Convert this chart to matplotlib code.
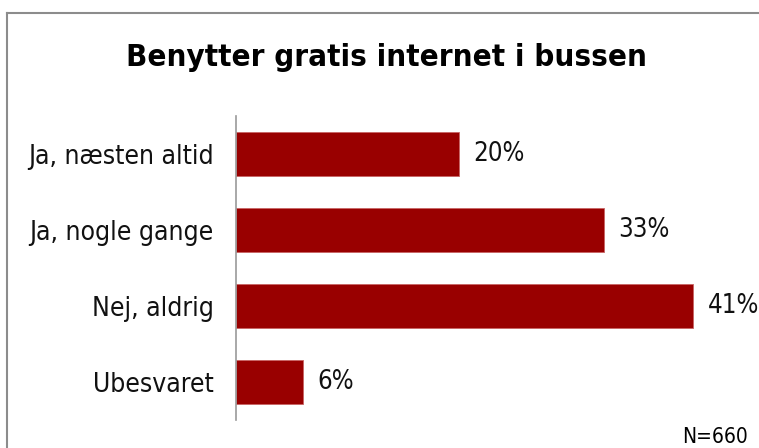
import matplotlib.pyplot as plt
from matplotlib.lines import Line2D

categories = ["Ja, næsten altid", "Ja, nogle gange", "Nej, aldrig", "Ubesvaret"]
values = [20, 33, 41, 6]
value_labels = ["20%", "33%", "41%", "6%"]
title = "Benytter gratis internet i bussen"
note = "N=660"

W, H = 759, 448
fig = plt.figure(figsize=(W / 100, H / 100), dpi=100)

# grey frame (left and top edges visible)
fig.add_artist(Line2D([7 / W, 7 / W], [0, 1 - 13 / H], color="#8c8c8c", lw=1.5))
fig.add_artist(Line2D([7 / W, 1], [1 - 13 / H, 1 - 13 / H], color="#8c8c8c", lw=1.5))

ax = fig.add_axes([236 / W, 28 / H, 513 / W, (420 - 116) / H])
pos = list(range(len(categories)))
ax.barh(pos, values, height=0.58, color="#990000", edgecolor="#c86464", linewidth=0.6)
ax.set_ylim(len(categories) - 0.5, -0.5)
ax.set_xlim(0, 46)

lab_font = dict(family="DejaVu Sans", stretch="condensed", fontsize=19, color="#111111")
for p, v, t in zip(pos, values, value_labels):
    ax.text(v + 1.3, p, t, va="center", ha="left",
            family="DejaVu Sans", stretch="condensed", fontsize=18.5, color="#111111")

ax.set_yticks(pos)
ax.set_yticklabels(categories, **lab_font)
ax.tick_params(axis="y", length=0, pad=16)
ax.set_xticks([])
for s in ["top", "right", "bottom"]:
    ax.spines[s].set_visible(False)
ax.spines["left"].set_color("#999999")
ax.spines["left"].set_linewidth(1.2)

fig.text(386 / W, 1 - 58 / H, title, ha="center", va="center",
         family="DejaVu Sans", stretch="condensed", fontweight="bold", fontsize=22.4)
fig.text(748 / W, 1 - 437 / H, note, ha="right", va="center",
         family="DejaVu Sans", stretch="condensed", fontsize=15)

fig.savefig("out.png", dpi=100)
